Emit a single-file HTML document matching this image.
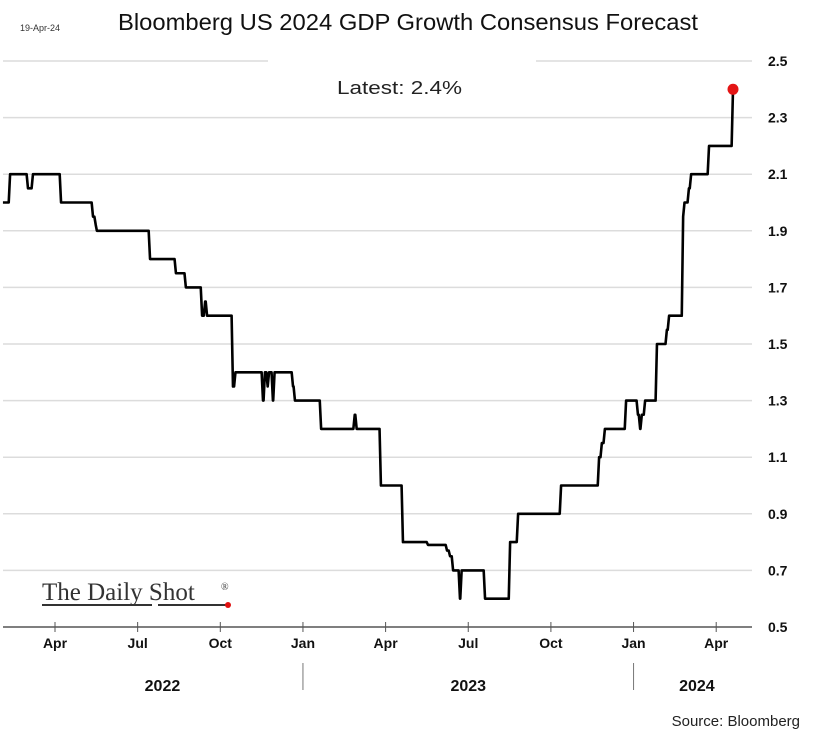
<!DOCTYPE html>
<html><head><meta charset="utf-8"><style>
body{margin:0;background:#fff;}
svg{display:block;font-family:"Liberation Sans",sans-serif;}
</style></head><body>
<svg id="chart" width="823" height="738" viewBox="0 0 823 738">
<text x="20" y="31" font-size="9" fill="#333">19-Apr-24</text>
<text x="118" y="30" font-size="23" fill="#111" textLength="580" lengthAdjust="spacingAndGlyphs">Bloomberg US 2024 GDP Growth Consensus Forecast</text>
<g id="grid"></g>
<rect x="268" y="50" width="268" height="30" fill="#fff"/>
<text x="337" y="94" font-size="18" fill="#222" textLength="125" lengthAdjust="spacingAndGlyphs">Latest:  2.4%</text>
<g id="yaxis"></g>
<g id="xaxis"></g>
<g id="series"></g>
<g>
<text x="42" y="600" font-family="Liberation Serif,serif" font-size="25" fill="#333">The Daily Shot</text>
<text x="221" y="590" font-family="Liberation Serif,serif" font-size="10" fill="#333">®</text>
<line x1="42" y1="605" x2="152" y2="605" stroke="#333" stroke-width="2"/>
<line x1="158" y1="605" x2="228" y2="605" stroke="#333" stroke-width="2"/>
<circle cx="228" cy="605" r="3" fill="#e01010"/>
</g>
<text x="800" y="726" font-size="15" text-anchor="end" fill="#222">Source: Bloomberg</text>
</svg>
<script>
// months since 2022-01-01
const times = [1.11,1.37,2.02,2.2,3.22,4.38,4.48,4.52,6.45,7.39,7.75,8.34,8.45,8.52,9.46,9.55,10.55,10.62,10.72,10.77,10.91,10.97,11.64,11.71,12.66,13.88,13.95,14.83,15.63,16.54,17.23,17.34,17.45,17.7,17.76,18.61,19.52,19.81,21.37,22.75,22.85,22.96,23.73,24.16,24.24,24.3,24.42,24.85,25.21,25.29,25.80,25.85,26.01,26.09,26.74,27.61];
const values = [2.0,2.1,2.05,2.1,2.0,1.95,1.92,1.9,1.8,1.75,1.7,1.6,1.65,1.6,1.35,1.4,1.3,1.4,1.35,1.4,1.3,1.4,1.35,1.3,1.2,1.25,1.2,1.0,0.8,0.79,0.77,0.75,0.7,0.6,0.7,0.6,0.8,0.9,1.0,1.1,1.15,1.2,1.3,1.25,1.2,1.25,1.3,1.5,1.55,1.6,1.95,2.0,2.05,2.1,2.2,2.4];
const yTicks = [0.5,0.7,0.9,1.1,1.3,1.5,1.7,1.9,2.1,2.3,2.5];
const monthTicks = [3,6,9,12,15,18,21,24,27];
const monthLabels = ["Apr","Jul","Oct","Jan","Apr","Jul","Oct","Jan","Apr"];
const yearBreaks = [12,24];
const years = ["2022","2023","2024"];
const yearCenters = [6.9,18,26.3];

const NS="http://www.w3.org/2000/svg";
const xs = t => 55 + (t-3)*27.55;
const ys = v => 627 - (v-0.5)*283;
function mk(tag,attrs,parent){const e=document.createElementNS(NS,tag);for(const k in attrs)e.setAttribute(k,attrs[k]);parent.appendChild(e);return e;}
const grid=document.getElementById('grid'),ya=document.getElementById('yaxis'),xa=document.getElementById('xaxis'),se=document.getElementById('series');

yTicks.forEach(v=>{
  if(v!==0.5){const g=mk('line',{x1:3,x2:752,y1:ys(v),y2:ys(v),stroke:'#dcdcdc','stroke-width':1.5},grid);
  
  }
  const t=mk('text',{x:768,y:ys(v)+5,'font-size':14,'font-weight':'bold',fill:'#111'},ya);
  t.textContent=v.toFixed(1);
  
  
});
const ax=mk('line',{x1:3,x2:752,y1:627,y2:627,stroke:'#555','stroke-width':1.5},xa);


monthTicks.forEach((m,i)=>{
  mk('line',{x1:xs(m),x2:xs(m),y1:622,y2:632,stroke:'#555','stroke-width':1},xa);
  const t=mk('text',{x:xs(m),y:648,'font-size':14,'font-weight':'bold','text-anchor':'middle',fill:'#111'},xa);
  t.textContent=monthLabels[i];
  
  
});
yearBreaks.forEach(m=>{
  const l=mk('line',{x1:xs(m),x2:xs(m),y1:663,y2:690,stroke:'#777','stroke-width':1},xa);
  
  
});
years.forEach((y,i)=>{
  const t=mk('text',{x:xs(yearCenters[i]),y:691,'font-size':16,'font-weight':'bold','text-anchor':'middle',fill:'#111'},xa);
  t.textContent=y;
  
  
});
let pts=[];
for(let i=0;i<times.length;i++){
  if(i>0){
    const hold=Math.max(times[i-1], times[i]-0.05);
    pts.push(xs(hold)+','+ys(values[i-1]));
  }
  pts.push(xs(times[i])+','+ys(values[i]));
}
const pl=mk('polyline',{points:pts.join(' '),fill:'none',stroke:'#000','stroke-width':2.6,'stroke-linejoin':'round'},se);


const n=times.length-1;
const dot=mk('circle',{cx:xs(times[n]),cy:ys(values[n]),r:5.5,fill:'#e41515'},se);


</script>
</body></html>
